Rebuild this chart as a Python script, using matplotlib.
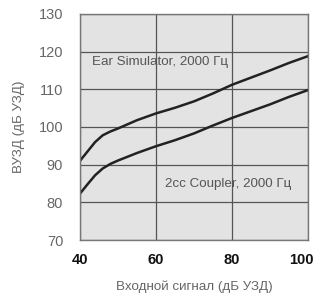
import matplotlib
matplotlib.use('Agg')
import matplotlib.pyplot as plt
import matplotlib.transforms as mtransforms

plt.rcParams['font.family'] = ['Liberation Sans', 'DejaVu Sans']

# входной сигнал (дБ УЗД)
x_ear = [40, 42, 44, 46, 48, 50, 55, 60, 65, 70, 75, 80, 85, 90, 95, 100]
y_ear = [91, 93.5, 96, 97.8, 98.8, 99.6, 101.8, 103.6, 105.1, 106.8, 108.9, 111.2, 113.1, 115.0, 117.0, 118.8]

x_cpl = [40, 42, 44, 46, 48, 50, 55, 60, 65, 70, 75, 80, 85, 90, 95, 100]
y_cpl = [82.3, 84.8, 87.2, 89.0, 90.2, 91.1, 93.1, 94.9, 96.5, 98.3, 100.4, 102.4, 104.2, 106.0, 108.0, 109.8]

xticks = [40, 60, 80, 100]
yticks = [70, 80, 90, 100, 110, 120, 130]

fig = plt.figure(figsize=(3.17, 2.95), dpi=100)
ax = fig.add_axes([0.252, 0.186, 0.72, 0.767])
ax.set_facecolor('#e3e3e3')

ax.plot(x_ear, y_ear, color='#222222', lw=1.8)
ax.plot(x_cpl, y_cpl, color='#222222', lw=1.8)

ax.set_xlim(40, 100)
ax.set_ylim(70, 130)
ax.set_xticks(xticks)
ax.set_yticks(yticks)
ax.grid(True, color='#555555', lw=0.9)
ax.set_axisbelow(True)
for s in ax.spines.values():
    s.set_color('#777777')
    s.set_linewidth(1.0)
ax.tick_params(axis='y', length=0, pad=12)
ax.tick_params(axis='x', length=0, pad=9)
ax.set_xticklabels([str(t) for t in xticks], fontsize=10.5, fontweight='bold', color='#111111')
ax.set_yticklabels([str(t) for t in yticks], fontsize=10.5, color='#666666')

# "100" sits against the right edge of the figure, nudge it in a bit
last = ax.get_xticklabels()[-1]
last.set_transform(last.get_transform() + mtransforms.ScaledTranslation(-5 / 72, 0, fig.dpi_scale_trans))

ax.text(43.1, 117.3, 'Ear Simulator, 2000 Гц', fontsize=9.6, color='#555555', va='center')
ax.text(62.4, 84.9, '2cc Coupler, 2000 Гц', fontsize=9.6, color='#555555', va='center')

ax.set_xlabel('Входной сигнал (дБ УЗД)', fontsize=9.6, color='#666666', labelpad=10)
ax.set_ylabel('ВУЗД (дБ УЗД)', fontsize=9.6, color='#666666', labelpad=10)

fig.savefig('out.png', dpi=100)
